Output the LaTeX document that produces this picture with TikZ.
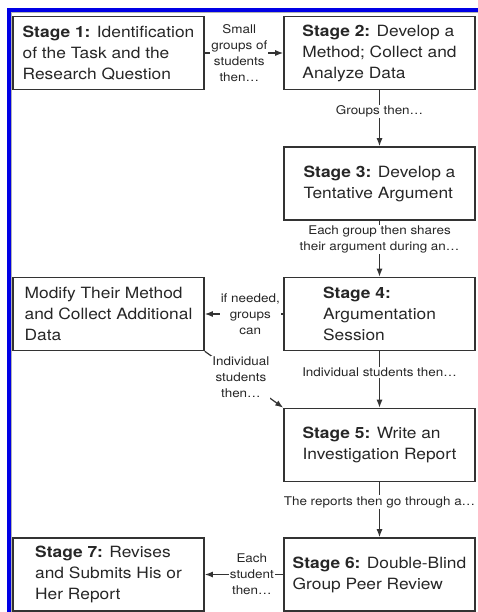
\documentclass[tikz,border=0pt]{standalone}
\usepackage{fontspec}
\setmainfont{TeX Gyre Heros}[FakeStretch=1.12]
\usepackage{tikz}
\usetikzlibrary{arrows.meta}

\begin{document}
\begin{tikzpicture}[x=1pt, y=-1pt, every node/.style={text=black!85},
	stage/.style={draw=black!80, line width=1.6pt, minimum width=191pt, minimum height=73pt, inner sep=3pt, align=left, font=\fontsize{15.5}{21}\selectfont},
	lbl/.style={fill=white, inner sep=1pt, align=center, font=\fontsize{12}{16}\selectfont},
	arr/.style={draw=black!80, line width=1.2pt, -{Latex[length=8pt,width=6pt]}}]
	\useasboundingbox (0,0) rectangle (478,612);
	\draw[blue!90!black, line width=3.5pt] (9,10) rectangle (520,650);
	\draw[black!30, line width=0.8pt] (11.8,12.8) rectangle (520,650);
	\node[stage] (S1) at (108.5,53) {\textbf{Stage 1:} Identification\\of the Task and the\\Research Question};
	\node[stage] (S2) at (379.5,53) {\textbf{Stage 2:} Develop a\\Method; Collect and\\Analyze Data};
	\node[stage] (S3) at (379.5,183.5) {\textbf{Stage 3:} Develop a\\Tentative Argument};
	\node[stage] (S4) at (379.5,314) {\textbf{Stage 4:}\\Argumentation\\Session};
	\node[stage] (Mod) at (108.5,314) {Modify Their Method\\and Collect Additional\\Data};
	\node[stage] (S5) at (379.5,445) {\textbf{Stage 5:} Write an\\Investigation Report};
	\node[stage] (S6) at (379.5,574.5) {\textbf{Stage 6:} Double-Blind\\Group Peer Review};
	\node[stage] (S7) at (108.5,574.5) {\textbf{Stage 7:} Revises\\and Submits His or\\Her Report};
	\draw[arr] (S1) -- node[lbl, pos=.44] {Small\\groups of\\students\\then\dots} (S2);
	\draw[arr] (S2) -- node[lbl, pos=.38] {Groups then\dots} (S3);
	\draw[arr] (S3) -- node[lbl, pos=.34] {Each group then shares\\their argument during an\dots} (S4);
	\draw[arr] (S4) -- node[lbl, pos=.42] {if needed,\\groups\\can} (Mod);
	\draw[arr] (Mod.south east) -- node[lbl, pos=.46] {Individual\\students\\then\dots} (S5.north west);
	\draw[arr] (S4) -- node[lbl, pos=.37] {Individual students then\dots} (S5);
	\draw[arr] (S5) -- node[lbl, pos=.36] {The reports then go through a\dots} (S6);
	\draw[arr] (S6) -- node[lbl, pos=.4] {Each\\student\\then\dots} (S7);
\end{tikzpicture}
\end{document}
